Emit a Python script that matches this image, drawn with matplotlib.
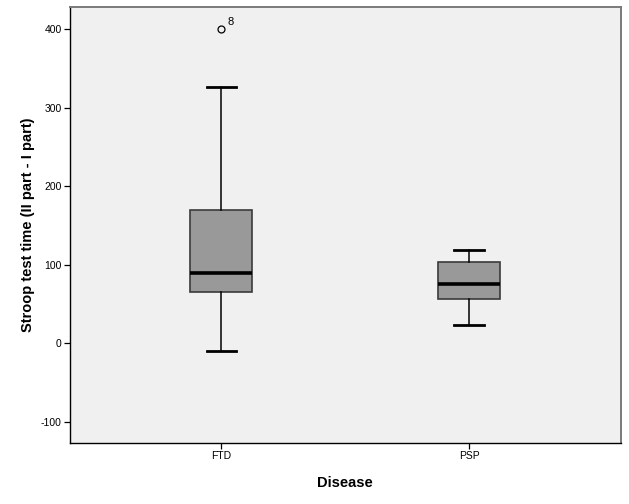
import matplotlib
matplotlib.use("Agg")
import matplotlib.pyplot as plt

plt.rcParams['font.family'] = ['Liberation Sans', 'DejaVu Sans']
plt.rcParams['axes.unicode_minus'] = False

groups = ['FTD', 'PSP']
q1 = [65, 56]
median = [90, 76]
q3 = [170, 103]
whisker_low = [-10, 23]
whisker_high = [326, 119]
outliers = [[400], []]
outlier_ids = [['8'], []]

stats = []
for i, g in enumerate(groups):
    stats.append({
        'label': g,
        'q1': q1[i],
        'med': median[i],
        'q3': q3[i],
        'whislo': whisker_low[i],
        'whishi': whisker_high[i],
        'fliers': outliers[i],
    })

fig = plt.figure(figsize=(6.29, 5.04), dpi=100)
ax = fig.add_axes([0.1113, 0.1216, 0.8755, 0.8645])
ax.set_facecolor('#F0F0F0')

positions = [1, 2]
ax.bxp(stats, positions=positions, widths=0.25, patch_artist=True,
       boxprops=dict(facecolor='#999999', edgecolor='#3a3a3a', linewidth=1.2),
       medianprops=dict(color='black', linewidth=2.6),
       whiskerprops=dict(color='black', linewidth=1.1),
       capprops=dict(color='black', linewidth=2.0),
       capwidths=0.12,
       flierprops=dict(marker='o', markerfacecolor='none', markeredgecolor='black',
                       markersize=5, markeredgewidth=0.9))

# case number next to the outlier, SPSS style
for i, pts in enumerate(outliers):
    for v, lab in zip(pts, outlier_ids[i]):
        ax.annotate(lab, (positions[i], v), xytext=(4.5, 1.5), textcoords='offset points',
                    fontsize=8, ha='left', va='bottom')

ax.set_xlim(1.5 - 1.111, 1.5 + 1.111)
ax.set_ylim(-126.8, 428.4)
ax.set_yticks([-100, 0, 100, 200, 300, 400])
ax.set_xticks(positions)
ax.set_xticklabels(groups)
ax.tick_params(axis='both', direction='out', length=4, width=0.9, labelsize=7.5, pad=2)

ax.set_xlabel('Disease', fontsize=10.5, fontweight='bold', labelpad=11)
ax.set_ylabel('Stroop test time (II part - I part)', fontsize=10.5, fontweight='bold', labelpad=4)

for side in ['left', 'bottom']:
    ax.spines[side].set_color('black')
    ax.spines[side].set_linewidth(1.0)
for side in ['top', 'right']:
    ax.spines[side].set_color('#7a7a7a')
    ax.spines[side].set_linewidth(1.4)

fig.savefig('out.png', dpi=100, facecolor='white')
